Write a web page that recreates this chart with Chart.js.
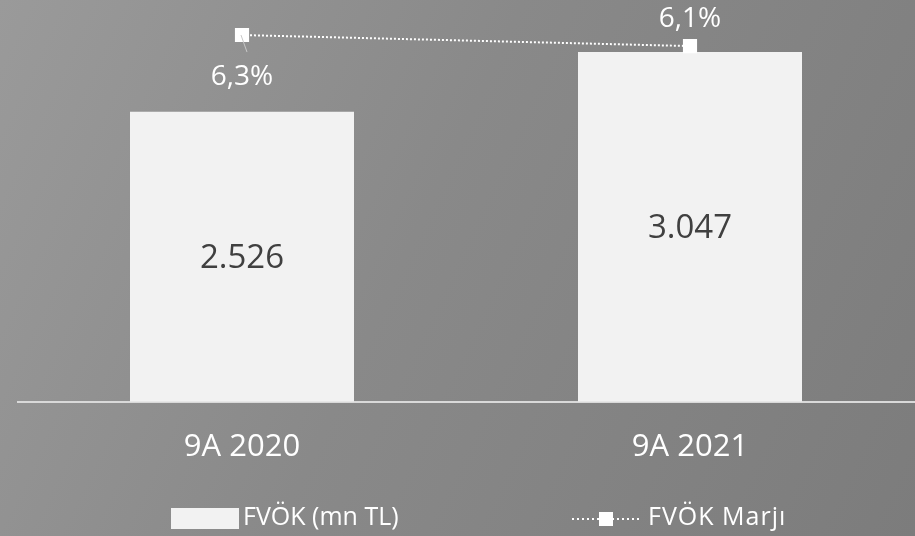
<!DOCTYPE html>
<html lang="tr">
<head>
<meta charset="utf-8">
<title>FVÖK</title>
<script src="https://cdn.jsdelivr.net/npm/chart.js@4/dist/chart.umd.min.js"></script>
<style>
  html, body {
    margin: 0;
    padding: 0;
  }
  body {
    width: 915px;
    height: 536px;
    overflow: hidden;
    background: linear-gradient(115deg, #9a9a9a 0%, #898989 45%, #7c7c7c 100%);
  }
  #wrap {
    position: relative;
    width: 915px;
    height: 536px;
  }
</style>
</head>
<body>
<div id="wrap"><canvas id="chart"></canvas></div>
<script>
const categories = ["9A 2020", "9A 2021"];
const ebitda = [2526, 3047];
const margin = [6.3, 6.1];
const seriesNames = ["FVÖK (mn TL)", "FVÖK Marjı"];

const FONT = "'Open Sans', 'Noto Sans', sans-serif";

function fmtThousands(v) {
  return String(v).replace(/\B(?=(\d{3})+(?!\d))/g, ".");
}

function fmtPct(v) {
  return v.toFixed(1).replace(".", ",") + "%";
}

const labelsPlugin = {
  id: "valueLabels",
  afterDatasetsDraw(chart) {
    const ctx = chart.ctx;
    ctx.save();
    ctx.textAlign = "center";
    ctx.textBaseline = "middle";

    // bar values, centred in the bar
    const bars = chart.getDatasetMeta(0);
    ctx.font = `33px ${FONT}`;
    ctx.fillStyle = "#404040";
    bars.data.forEach((el, i) => {
      ctx.fillText(fmtThousands(ebitda[i]), el.x, (el.y + el.base) / 2 + 2);
    });

    // margin labels: first below the point (with a leader), second above
    const line = chart.getDatasetMeta(1);
    const offsets = [42, -27];
    ctx.font = `28px ${FONT}`;
    ctx.fillStyle = "#ffffff";
    line.data.forEach((el, i) => {
      ctx.fillText(fmtPct(margin[i]), el.x, el.y + offsets[i]);
    });
    const p0 = line.data[0];
    ctx.strokeStyle = "#c8c8c8";
    ctx.lineWidth = 1;
    ctx.beginPath();
    ctx.moveTo(p0.x - 1, p0.y);
    ctx.lineTo(p0.x + 5, p0.y + 17);
    ctx.stroke();
    ctx.restore();
  }
};

const legendPlugin = {
  id: "bottomLegend",
  afterDraw(chart) {
    const ctx = chart.ctx;
    const y = 518;
    ctx.save();
    ctx.font = `25px ${FONT}`;
    ctx.textBaseline = "middle";
    ctx.textAlign = "left";

    // bar entry
    ctx.fillStyle = "#f2f2f2";
    ctx.fillRect(171, y - 10, 68, 21);
    ctx.fillStyle = "#ffffff";
    ctx.fillText(chart.data.datasets[0].label, 243, y);

    // line entry
    ctx.strokeStyle = "#ffffff";
    ctx.lineWidth = 2;
    ctx.setLineDash([2, 3]);
    ctx.beginPath();
    ctx.moveTo(572, y + 1);
    ctx.lineTo(639, y + 1);
    ctx.stroke();
    ctx.setLineDash([]);
    ctx.fillRect(599, y - 6, 14, 14);
    ctx.letterSpacing = "1px";
    ctx.fillText(chart.data.datasets[1].label, 648, y);
    ctx.restore();
  }
};

function buildChart() {
  const ctx = document.getElementById("chart");
  return new Chart(ctx, {
    data: {
      labels: categories,
      datasets: [
        {
          type: "bar",
          label: seriesNames[0],
          data: ebitda,
          yAxisID: "y",
          backgroundColor: "#f2f2f2",
          borderWidth: 0,
          categoryPercentage: 0.5,
          barPercentage: 1,
          order: 1
        },
        {
          type: "line",
          label: seriesNames[1],
          data: margin,
          yAxisID: "y2",
          borderColor: "#ffffff",
          borderWidth: 2,
          borderDash: [2, 2],
          pointStyle: "rect",
          pointRadius: 10,
          pointBackgroundColor: "#ffffff",
          pointBorderWidth: 0,
          tension: 0,
          order: 0
        }
      ]
    },
    options: {
      responsive: true,
      maintainAspectRatio: false,
      animation: false,
      layout: {
        autoPadding: false,
        padding: { left: 18, right: 1, top: 0, bottom: 43 }
      },
      plugins: {
        legend: { display: false },
        tooltip: { enabled: false }
      },
      scales: {
        x: {
          grid: { display: false, drawTicks: false },
          border: { display: true, color: "#d9d9d9", width: 2 },
          ticks: {
            color: "#ffffff",
            padding: 27,
            font: { family: FONT, size: 31 }
          }
        },
        y: {
          display: false,
          min: 0,
          max: 3500
        },
        y2: {
          display: false,
          min: -0.355,
          max: 6.936
        }
      }
    },
    plugins: [labelsPlugin, legendPlugin]
  });
}

document.addEventListener("DOMContentLoaded", buildChart);
</script>
</body>
</html>
